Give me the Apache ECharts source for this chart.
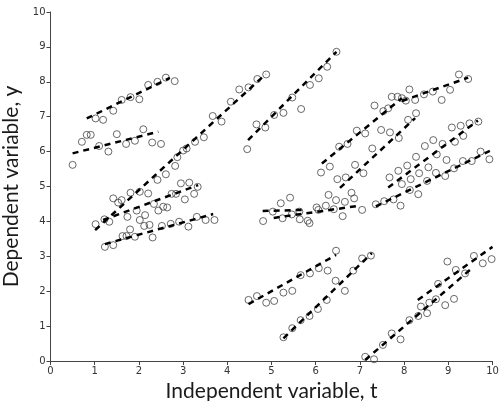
<!DOCTYPE html>
<html>
<head>
<meta charset="utf-8">
<script src="https://cdn.jsdelivr.net/npm/echarts@6/dist/echarts.min.js"></script>
<style>
  html, body { margin: 0; padding: 0; background: #fff; }
  #chart { width: 500px; height: 401px; }
</style>
</head>
<body>
<div id="chart"></div>
<script>
// observed points [t, y], grouped by the band they sit in
const groupA = [[1.02,6.95],[1.19,6.91],[1.42,7.17],[1.61,7.48],[1.81,7.56],[2.01,7.50],[2.21,7.91],[2.42,8.00],[2.61,8.12],[2.81,8.02]];
const groupB = [[0.50,5.62],[0.71,6.28],[0.82,6.48],[0.91,6.48],[1.10,6.16],[1.31,6.00],[1.50,6.50],[1.71,6.22],[1.91,6.31],[2.10,6.64],[2.30,6.26],[2.50,6.22]];
const groupC = [[1.02,3.92],[1.22,4.06],[1.33,3.99],[1.42,4.66],[1.53,4.54],[1.61,4.61],[1.81,4.82],[2.02,4.85],[2.21,4.80],[2.42,5.19],[2.61,5.35],[2.82,5.59],[2.87,5.84],[3.00,6.03],[3.08,6.09],[3.27,6.28],[3.47,6.41],[3.67,7.02],[3.87,6.86],[4.08,7.43],[4.27,7.78],[4.48,7.84],[4.68,8.08],[4.88,8.21]];
const groupH = [[1.74,4.13],[1.95,4.31],[2.14,4.18],[2.34,4.50],[2.44,4.31],[2.55,4.42],[2.64,4.40],[2.74,4.79],[2.84,4.79],[2.95,5.09],[3.04,4.63],[3.14,5.11],[3.25,4.79],[3.33,4.99]];
const groupI = [[1.23,3.27],[1.42,3.32],[1.63,3.58],[1.72,3.58],[1.80,3.77],[1.91,3.56],[2.02,4.04],[2.12,3.87],[2.24,3.90],[2.31,3.54],[2.52,3.87],[2.72,3.93],[2.91,3.99],[3.12,3.85],[3.31,4.13],[3.51,4.04],[3.71,4.04]];
const groupD = [[4.45,6.07],[4.66,6.78],[4.86,6.69],[5.06,7.05],[5.27,7.11],[5.47,7.55],[5.67,7.22],[5.87,7.91],[6.07,8.10],[6.26,8.43],[6.47,8.86]];
const groupJ = [[4.81,4.01],[5.03,4.28],[5.21,4.52],[5.42,4.68],[5.25,4.09],[5.46,4.20],[5.63,4.28],[5.64,4.06],[5.82,4.02],[5.86,3.95],[6.02,4.40],[6.06,4.33],[6.23,4.45],[6.41,4.35],[6.61,4.15],[7.05,4.33],[6.29,4.76],[6.46,4.61],[6.66,4.56],[6.81,4.82],[6.87,4.66]];
const groupE = [[6.12,5.40],[6.32,5.57],[6.53,6.14],[6.72,6.22],[6.93,6.60],[7.12,6.52],[7.33,7.32],[7.53,7.16],[7.64,7.24],[7.72,7.57],[7.85,7.57],[7.95,7.53]];
const groupF = [[8.04,7.46],[8.12,7.78],[8.25,7.48],[8.45,7.64],[8.65,7.72],[8.85,7.48],[9.04,7.77],[9.24,8.21],[9.45,8.08]];
const groupG = [[6.49,5.21],[6.68,5.26],[6.89,5.62],[7.08,5.38],[7.28,6.09],[7.48,6.62],[7.68,6.55],[7.88,6.39],[8.09,6.91],[8.27,7.10]];
const groupM = [[7.67,5.26],[7.87,5.45],[8.07,5.60],[8.27,5.85],[8.47,6.16],[8.66,6.33],[8.87,6.22],[9.15,6.28],[9.34,6.45],[9.08,6.69],[9.28,6.74],[9.48,6.81],[9.68,6.86],[8.74,5.92],[8.96,5.76],[7.95,5.07],[8.15,5.21],[8.34,5.38],[8.55,5.55]];
const groupK = [[7.36,4.49],[7.55,4.58],[7.76,4.63],[7.92,4.45],[8.13,4.90],[8.32,4.78],[8.52,5.16],[8.72,5.39],[8.93,5.30],[9.13,5.52],[9.33,5.73],[9.53,5.73],[9.73,6.00],[9.93,5.78]];
const groupN = [[4.48,1.75],[4.67,1.86],[4.88,1.67],[5.06,1.72],[5.27,1.96],[5.47,2.01],[5.66,2.46],[5.87,2.51],[6.07,2.66],[6.27,2.59],[6.46,3.16]];
const groupO = [[5.27,0.68],[5.47,0.94],[5.66,1.17],[5.86,1.29],[6.05,1.49],[6.25,1.75],[6.45,2.30],[6.66,2.01],[6.85,2.59],[7.05,2.94],[7.25,3.02]];
const groupP = [[7.12,0.12],[7.32,0.05],[7.52,0.46],[7.72,0.79],[7.92,0.62],[8.12,1.17],[8.32,1.29],[8.52,1.37],[8.38,1.56],[8.57,1.67],[8.72,1.77],[8.93,1.60],[9.13,1.78],[8.77,2.21],[8.98,2.85],[9.17,2.61],[9.38,2.51],[9.58,3.01],[9.78,2.80],[9.98,2.92]];

// fitted segments [t0, y0, t1, y1]
const fitLines = [
  [0.82, 6.95, 2.70, 8.11],
  [0.50, 5.95, 2.44, 6.57],
  [1.01, 3.75, 4.87, 8.22],
  [1.19, 4.04, 3.34, 5.04],
  [1.23, 3.35, 3.68, 4.21],
  [4.47, 6.33, 6.47, 8.86],
  [4.80, 4.30, 5.75, 4.33],
  [5.05, 4.10, 7.00, 4.45],
  [6.14, 5.66, 7.95, 7.53],
  [7.95, 7.45, 9.45, 8.12],
  [6.55, 4.96, 8.25, 6.96],
  [7.64, 4.97, 9.67, 6.89],
  [7.36, 4.43, 9.94, 6.02],
  [4.48, 1.63, 6.46, 3.04],
  [5.27, 0.65, 7.27, 3.09],
  [7.12, 0.03, 9.49, 2.61],
  [8.31, 1.75, 10.0, 3.27]
];

const pointGroups = [groupA, groupB, groupC, groupH, groupI, groupD, groupJ, groupE, groupF, groupG, groupM, groupK, groupN, groupO, groupP];

const chart = echarts.init(document.getElementById('chart'));

const axisCommon = {
  type: 'value',
  min: 0,
  max: 10,
  interval: 1,
  axisLine: { show: true, lineStyle: { color: '#444', width: 1 } },
  axisTick: { show: true, length: 4, lineStyle: { color: '#444' } },
  axisLabel: { fontSize: 10, fontFamily: 'DejaVu Sans', color: '#333', margin: 5 },
  splitLine: { show: false },
  nameLocation: 'middle',
  nameTextStyle: { fontSize: 21, fontFamily: 'Lato', fontWeight: 'normal', color: '#1a1a1a' }
};

const lineSeries = fitLines.map(s => ({
  type: 'line',
  data: [[s[0], s[1]], [s[2], s[3]]],
  showSymbol: false,
  silent: true,
  z: 3,
  lineStyle: { color: '#000', width: 2.5, type: [6, 5] }
}));

const pointSeries = pointGroups.map(g => ({
  type: 'scatter',
  data: g,
  symbol: 'circle',
  symbolSize: 7,
  z: 2,
  itemStyle: { color: 'rgba(0,0,0,0)', borderColor: '#444', borderWidth: 1 }
}));

chart.setOption({
  animation: false,
  backgroundColor: '#fff',
  grid: { left: 50.5, right: 7.5, top: 12, bottom: 40, containLabel: false, outerBoundsMode: 'none' },
  xAxis: Object.assign({}, axisCommon, { name: 'Independent variable, t', nameGap: 15 }),
  yAxis: Object.assign({}, axisCommon, { name: 'Dependent variable, y', nameGap: 21 }),
  series: pointSeries.concat(lineSeries)
});
</script>
</body>
</html>
